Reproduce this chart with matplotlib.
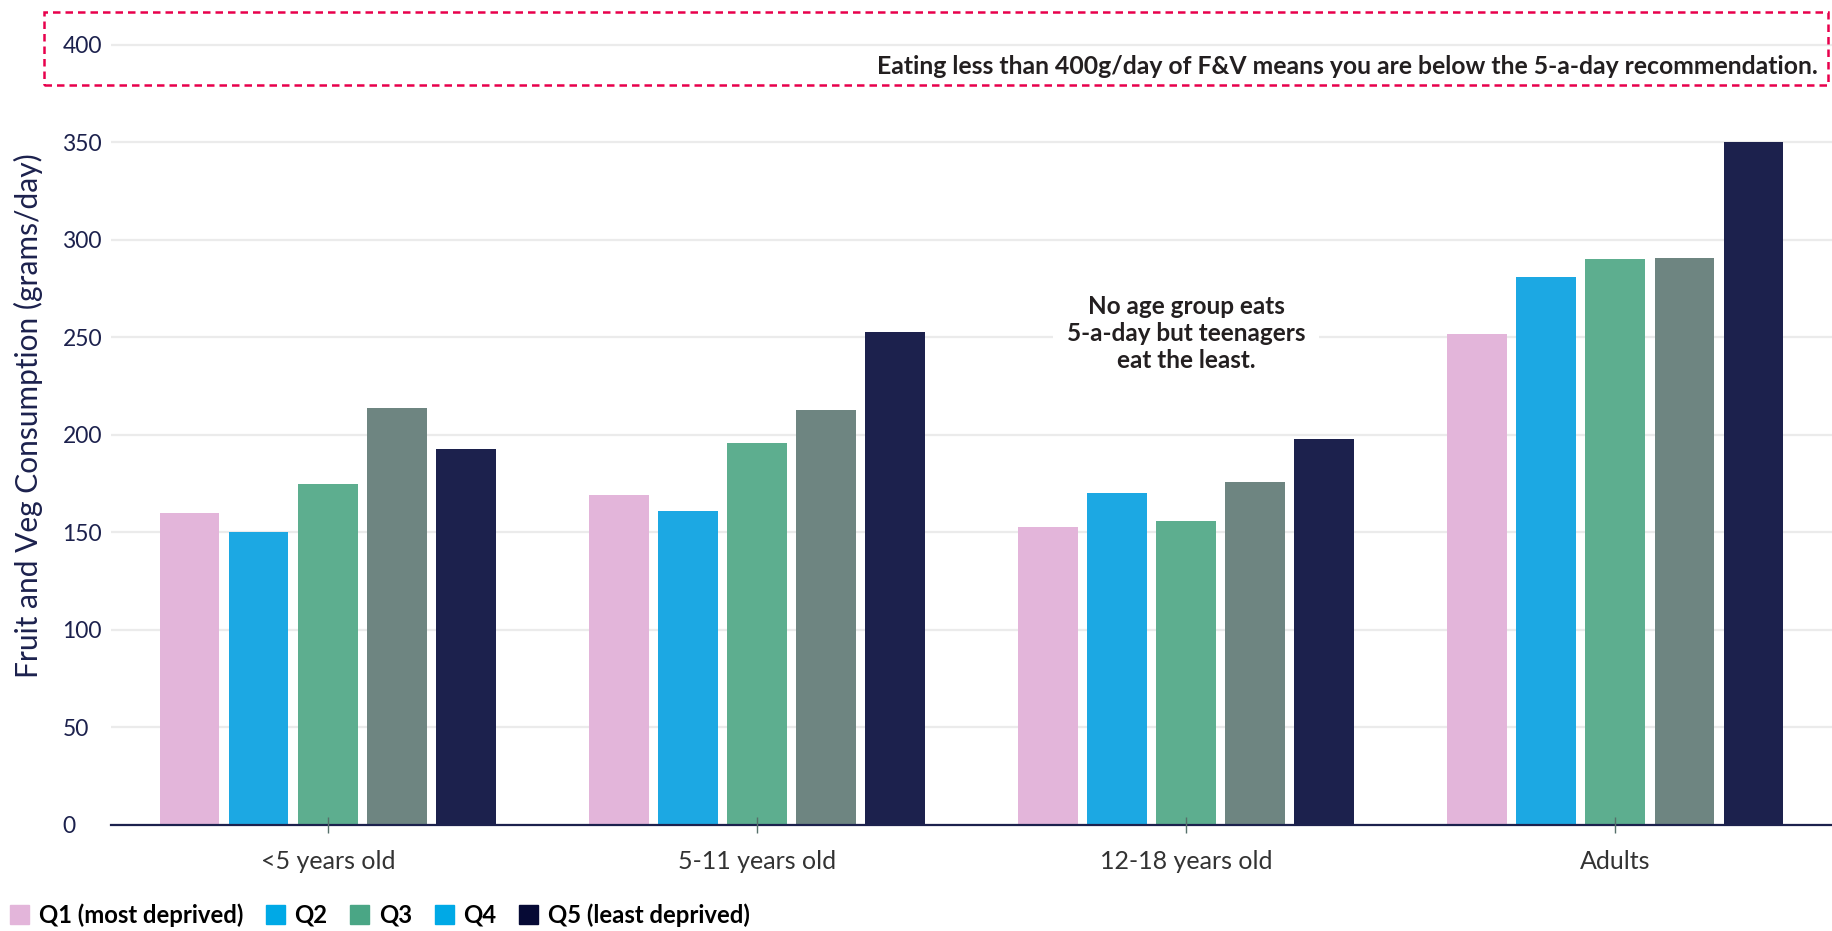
import matplotlib
matplotlib.use('Agg')
import matplotlib.pyplot as plt
import matplotlib.patches as mpatches
import numpy as np

plt.rcParams['font.family'] = ['Lato', 'DejaVu Sans']

# data
groups = ['<5 years old', '5-11 years old', '12-18 years old', 'Adults']
quintiles = ['Q1 (most deprived)', 'Q2', 'Q3', 'Q4', 'Q5 (least deprived)']
q1 = [160, 169, 153, 252]
q2 = [150, 161, 170, 281]
q3 = [175, 196, 156, 290]
q4 = [214, 213, 176, 291]
q5 = [193, 253, 198, 350]
values = [q1, q2, q3, q4, q5]

bar_colors = ['#e3b5da', '#1ca8e3', '#5dae8f', '#6e8581', '#1c214d']
legend_colors = ['#e3b5da', '#00a9e6', '#4aa685', '#00a9e6', '#060a35']
navy = '#1c214d'

fig = plt.figure(figsize=(18.32, 9.31), dpi=100)
ax = fig.add_axes([0.0606, 0.1139, 0.9394, 0.8797])

x = np.arange(len(groups))
pitch = 0.161
width = 0.139
for k, vals in enumerate(values):
    ax.bar(x + (k - 2) * pitch, vals, width, color=bar_colors[k], zorder=2)

ax.set_xlim(-0.505, 3.505)
ax.set_ylim(0, 420)
ax.set_yticks(np.arange(0, 401, 50))
ax.yaxis.grid(True, color='#ebebeb', linewidth=1.6)
ax.set_axisbelow(True)
ax.xaxis.set_zorder(3)

for s in ['top', 'right', 'left']:
    ax.spines[s].set_visible(False)
ax.spines['bottom'].set_color(navy)
ax.spines['bottom'].set_linewidth(1.6)
ax.spines['bottom'].set_zorder(3)

# y labels are left aligned in the original
ax.tick_params(axis='y', length=0, pad=35, labelsize=16.5, labelcolor=navy)
for t in ax.get_yticklabels():
    t.set_horizontalalignment('left')

ax.set_xticks(x)
ax.set_xticklabels(groups)
ax.tick_params(axis='x', direction='inout', length=12, width=1, color='#55706a',
               pad=12, labelsize=18, labelcolor='#333333')

ax.set_ylabel('Fruit and Veg Consumption (grams/day)', fontsize=21.5, color=navy)
ax.yaxis.set_label_coords(-0.0395, 0.5)

# centre note over the teenager group
ax.text(2, 252, 'No age group eats\n5-a-day but teenagers\neat the least.',
        ha='center', va='center', fontsize=17.5, fontweight='bold', color='#231f20',
        linespacing=1.2, zorder=4,
        bbox=dict(facecolor='white', edgecolor='none', pad=10))

# dashed 5-a-day box at the top
box = mpatches.Rectangle((0.024, 0.909), 0.974, 0.078, transform=fig.transFigure,
                         fill=False, edgecolor='#e8004c', linestyle=(0, (3, 2)),
                         linewidth=1.8)
fig.patches.append(box)
fig.text(0.9925, 0.929,
         'Eating less than 400g/day of F&V means you are below the 5-a-day recommendation.',
         ha='right', va='center', fontsize=17.8, fontweight='bold', color='#231f20')

handles = [mpatches.Patch(color=c) for c in legend_colors]
fig.legend(handles, quintiles, loc='center left', bbox_to_anchor=(0.0055, 0.0172),
           ncol=5, frameon=False, borderpad=0, borderaxespad=0,
           handlelength=0.8, handleheight=0.85,
           handletextpad=0.4, columnspacing=0.95,
           prop={'weight': 'bold', 'size': 17.2})

fig.savefig('out.png', dpi=100)
